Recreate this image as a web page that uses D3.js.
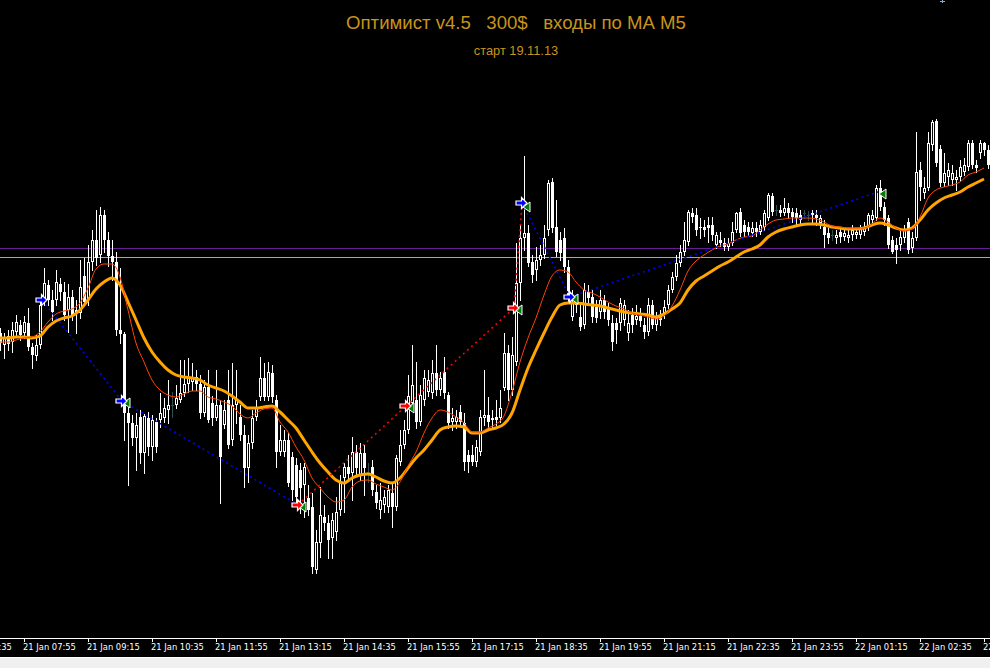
<!DOCTYPE html>
<html>
<head>
<meta charset="utf-8">
<script src="https://cdnjs.cloudflare.com/ajax/libs/d3/7.8.5/d3.min.js"></script>
<style>
  html, body { margin: 0; padding: 0; background: #000; overflow: hidden; }
  text { white-space: pre; }
</style>
</head>
<body>
<div id="chart"></div>
<script>
// EURUSD M5, 21-22 Jan. Prices are points above 1.35000 (1 point = 0.00001)
// one row per bar: [open, high, low, close]
var ohlc = [
  [667,672,650,657],[655,667,642,662],[664,670,650,656],[658,678,648,670],[668,685,664,678],
  [675,680,660,665],[667,684,662,678],[677,692,650,653],[653,657,632,645],[644,665,640,655],
  [655,700,652,695],[700,732,695,717],[715,720,695,700],[700,710,680,688],[700,730,695,718],
  [716,722,700,708],[708,718,680,685],[690,716,668,703],[703,710,680,685],[690,700,667,687],
  [687,740,682,713],[724,742,695,698],[700,755,695,738],[738,770,730,760],[760,790,735,742],
  [745,793,738,785],[785,790,748,760],[760,768,734,744],[744,760,720,738],[738,748,665,670],
  [670,732,657,666],[666,668,560,587],[587,595,515,577],[577,585,555,562],[562,587,530,575],
  [583,590,537,547],[547,586,527,584],[582,588,545,553],[553,585,540,580],[578,582,548,553],
  [580,607,573,587],[582,602,578,592],[590,620,577,595],[595,608,583,595],[595,615,592,602],
  [600,640,598,607],[607,640,604,616],[616,642,608,622],[618,637,610,623],[623,630,610,616],
  [616,625,582,587],[587,620,584,613],[613,630,578,580],[597,604,575,582],[582,630,580,595],
  [595,600,497,543],[575,600,572,590],[600,630,552,555],[560,637,555,595],[595,630,577,600],
  [583,595,560,565],[565,575,513,532],[532,565,518,557],[557,590,552,582],[583,600,580,593],
  [603,643,600,622],[622,637,600,603],[603,638,600,628],[627,635,598,603],[600,605,533,548],
  [548,575,545,560],[548,570,544,560],[560,567,514,517],[543,548,500,510],[535,542,495,503],
  [530,537,487,512],[515,537,483,533],[502,515,485,490],[493,507,427,433],[430,470,427,458],
  [457,513,443,485],[483,495,470,477],[477,485,442,460],[462,487,442,480],[468,503,460,488],
  [490,525,485,518],[522,537,488,533],[533,545,520,526],[527,563,500,548],[548,555,525,532],
  [525,557,520,547],[547,555,505,532],[528,537,518,528],[533,540,505,510],[508,515,492,497],
  [490,517,482,500],[495,510,488,503],[493,515,488,510],[507,517,473,493],[493,545,490,542],
  [538,570,535,555],[555,580,552,570],[570,625,567,604],[597,655,592,615],[600,638,572,578],
  [578,615,575,605],[600,630,595,622],[608,630,604,620],[607,640,602,627],[627,655,605,610],
  [610,628,605,622],[628,643,602,607],[605,608,572,577],[578,592,570,582],[578,590,572,583],
  [588,595,575,578],[577,587,530,538],[545,550,528,538],[545,555,535,538],[538,560,534,553],
  [548,590,545,583],[582,630,575,585],[585,603,570,578],[580,590,572,582],[583,600,575,580],
  [582,610,578,592],[612,667,610,647],[647,655,600,610],[610,663,605,645],[638,757,635,717],
  [717,775,700,762],[762,844,750,767],[767,775,734,737],[738,745,718,725],[730,753,720,740],
  [740,755,735,745],[745,775,742,762],[770,820,765,817],[818,822,768,772],[773,800,744,748],
  [760,768,740,747],[762,772,728,733],[733,740,697,703],[683,710,680,697],[697,705,688,695],
  [683,695,670,673],[675,717,672,710],[708,715,695,702],[703,710,678,683],[693,700,678,682],
  [688,710,682,700],[700,705,682,688],[692,697,675,680],[677,685,650,658],[677,682,657,670],
  [677,702,670,697],[680,700,675,695],[667,690,660,677],[685,692,668,675],[680,695,676,684],
  [684,692,674,679],[675,682,662,668],[668,702,665,695],[695,700,672,675],[675,688,670,682],
  [684,690,675,680],[687,700,682,693],[695,715,692,710],[710,728,708,723],[723,745,720,737],
  [737,755,734,748],[748,778,745,760],[758,790,755,788],[787,792,778,783],[785,792,765,770],
  [773,782,762,772],[773,780,764,770],[775,783,758,772],[775,783,760,765],[755,768,752,765],
  [760,768,754,757],[757,762,750,753],[753,762,750,757],[757,778,755,768],[770,788,768,787],
  [788,792,764,767],[775,780,764,768],[773,778,764,768],[767,778,764,772],[772,778,764,768],
  [768,780,766,775],[773,790,770,787],[782,807,780,805],[804,807,785,788],[790,795,785,790],
  [790,795,784,787],[787,802,785,792],[792,797,782,787],[788,792,778,783],[787,792,775,782],
  [785,790,776,780],[787,790,782,787],[785,789,780,785],[787,790,778,785],[785,790,775,782],
  [777,785,772,782],[773,780,753,765],[767,772,757,762],[765,770,760,765],[762,770,757,765],
  [768,772,758,763],[763,772,760,767],[762,770,758,765],[765,775,760,770],[765,772,762,768],
  [765,775,762,772],[768,778,765,773],[773,787,770,785],[780,790,778,785],[782,815,780,812],
  [812,820,790,793],[793,798,775,780],[782,785,752,755],[760,764,747,748],[755,762,737,750],
  [755,770,750,763],[762,775,758,770],[778,782,747,750],[752,768,748,762],[762,868,760,828],
  [830,838,800,813],[807,823,802,812],[812,868,810,857],[855,880,850,878],[879,881,834,837],
  [851,855,814,817],[817,847,814,827],[823,837,815,830],[820,835,815,827],[820,830,810,823],
  [823,840,820,833],[828,842,825,835],[833,860,830,857],[857,860,832,835],[835,840,828,832],
  [847,860,842,857],[857,858,845,850],[850,855,832,835]
];

// moving averages, one value every 2nd bar
var maSlow = [
  662,662,663,663,662,664,673,679,682,684, 690,700,711,718,722,715,698,680,662,648,
  638,630,625,623,622,620,615,612,609,604, 598,592,592,593,594,588,580,572,560,548,
  537,528,520,517,522,525,526,523,519,517, 522,532,542,550,560,570,573,574,573,567,
  567,570,572,576,587,610,632,650,667,683, 695,697,697,696,695,694,692,690,688,687,
  686,685,683,686,691,697,710,719,724,729, 734,738,743,748,751,755,763,768,771,773,
  775,776,776,775,773,772,771,771,772,775, 777,775,772,770,772,780,790,797,802,805,
  808,813,817,821
];
var maFast = [
  658,658,660,662,663,668,678,686,689,691, 697,712,731,736,736,723,690,657,638,620,
  610,605,603,606,609,609,603,601,598,594, 586,582,587,591,592,578,568,553,540,522,
  512,503,498,500,513,519,520,516,513,510, 518,534,548,567,582,590,588,583,577,568,
  568,572,576,584,608,638,662,682,705,724, 730,728,718,710,707,703,698,694,691,687,
  685,683,681,684,694,710,729,739,745,750, 754,756,760,763,764,770,776,780,781,782,
  782,782,781,778,774,773,772,772,772,776, 782,778,772,769,771,783,802,810,813,815,
  818,825,828,832
];

var levelPurple = 752;
var levelGray = 743;

// orders: open bar/price -> close bar/price
var trades = [
  { side: "buy",  openBar: 10,  openPrice: 700, closeBar: 30,  closePrice: 599 },
  { side: "buy",  openBar: 30,  openPrice: 599, closeBar: 74,  closePrice: 495 },
  { side: "sell", openBar: 74,  openPrice: 495, closeBar: 101, closePrice: 594 },
  { side: "sell", openBar: 101, openPrice: 594, closeBar: 128, closePrice: 692 },
  { side: "sell", openBar: 128, openPrice: 692, closeBar: 130, closePrice: 795 },
  { side: "buy",  openBar: 130, openPrice: 797, closeBar: 142, closePrice: 703 },
  { side: "buy",  openBar: 142, openPrice: 703, closeBar: 219, closePrice: 808 }
];

var firstBarTime = new Date(2014, 0, 21, 7, 25);
var barMinutes = 5;
var labelEvery = 16;

var width = 990, height = 668;
var plotBottom = 638;

var svg = d3.select("#chart").append("svg")
    .attr("width", width)
    .attr("height", height)
    .style("display", "block");

svg.append("rect").attr("width", width).attr("height", height).attr("fill", "#000");

var x = d3.scaleLinear().domain([0, 247.5]).range([0, 990]);
var y = d3.scaleLinear().domain([362, 1000]).range([plotBottom, 0]);

var plot = svg.append("g").attr("shape-rendering", "crispEdges");

// horizontal levels
[[levelPurple, "#6a1b9a"], [levelGray, "#a4a8ac"]].forEach(function(l) {
  var yy = Math.round(y(l[0])) + 0.5;
  plot.append("line").attr("x1", 0).attr("x2", width).attr("y1", yy).attr("y2", yy)
      .attr("stroke", l[1]).attr("stroke-width", 1);
});

// candles
var bars = plot.selectAll("g.bar").data(ohlc).enter().append("g").attr("class", "bar");
bars.each(function(d, i) {
  var g = d3.select(this);
  var cx = Math.round(x(i));
  var o = d[0], h = d[1], l = d[2], c = d[3];
  var doji = o === c;
  var col = doji ? "#2f4f4f" : "#ffffff";
  g.append("line").attr("x1", cx + 0.5).attr("x2", cx + 0.5)
      .attr("y1", Math.round(y(h))).attr("y2", Math.round(y(l)) + 1)
      .attr("stroke", col);
  var top = Math.round(y(Math.max(o, c))), bot = Math.round(y(Math.min(o, c)));
  if (doji) {
    g.append("rect").attr("x", cx - 1).attr("y", top).attr("width", 3).attr("height", 1).attr("fill", col);
  } else if (c > o) {
    g.append("rect").attr("x", cx - 0.5).attr("y", top + 0.5)
        .attr("width", 2).attr("height", Math.max(bot - top - 1, 0))
        .attr("fill", "#000").attr("stroke", "#fff").attr("stroke-width", 1);
  } else {
    g.append("rect").attr("x", cx - 1).attr("y", top)
        .attr("width", 3).attr("height", Math.max(bot - top, 1)).attr("fill", "#fff");
  }
});

// moving averages
var maLine = d3.line()
    .x(function(d, k) { return x(k * 2); })
    .y(function(d) { return y(d); })
    .curve(d3.curveMonotoneX);

svg.append("path").datum(maSlow).attr("d", maLine)
    .attr("fill", "none").attr("stroke", "#ffa500").attr("stroke-width", 3);
svg.append("path").datum(maFast).attr("d", maLine)
    .attr("fill", "none").attr("stroke", "#ff4500").attr("stroke-width", 1);

// order lines
var sideColor = { buy: "#0000ff", sell: "#ff0000" };
svg.selectAll("line.trade").data(trades).enter().append("line")
    .attr("class", "trade")
    .attr("x1", function(d) { return x(d.openBar) + 2; })
    .attr("y1", function(d) { return y(d.openPrice); })
    .attr("x2", function(d) { return x(d.closeBar) + 2; })
    .attr("y2", function(d) { return y(d.closePrice); })
    .attr("stroke", function(d) { return sideColor[d.side]; })
    .attr("stroke-width", 1.6)
    .attr("stroke-dasharray", "2,3.5");

// close marks (green triangles)
svg.selectAll("path.close").data(trades).enter().append("path")
    .attr("class", "close")
    .attr("transform", function(d) { return "translate(" + (x(d.closeBar) + 3) + "," + (y(d.closePrice) + 2) + ")"; })
    .attr("d", "M0,0L7,-5L7,5Z")
    .attr("fill", "#008000").attr("stroke", "#fff").attr("stroke-width", 1);

// open marks (arrows)
svg.selectAll("path.open").data(trades).enter().append("path")
    .attr("class", "open")
    .attr("transform", function(d) { return "translate(" + (x(d.openBar) + 1.5) + "," + y(d.openPrice) + ")"; })
    .attr("d", "M-5.5,-2L0,-2L0,-5.5L5.5,0L0,5.5L0,2L-5.5,2Z")
    .attr("fill", function(d) { return sideColor[d.side]; })
    .attr("stroke", "#fff").attr("stroke-width", 1.2);

// time axis
svg.append("line").attr("x1", 0).attr("x2", width).attr("y1", plotBottom + 0.5).attr("y2", plotBottom + 0.5)
    .attr("stroke", "#fff").attr("shape-rendering", "crispEdges");
svg.append("line").attr("x1", 0).attr("x2", width).attr("y1", 657.5).attr("y2", 657.5)
    .attr("stroke", "#fff").attr("shape-rendering", "crispEdges");
svg.append("rect").attr("x", 0).attr("y", 658).attr("width", width).attr("height", 10).attr("fill", "#f0f0f0");

var fmt = d3.timeFormat("%d %b %H:%M");
var tickBars = d3.range(-10, ohlc.length, labelEvery);
var ticks = svg.append("g").selectAll("g").data(tickBars).enter().append("g")
    .attr("transform", function(b) { return "translate(" + Math.round(x(b)) + ",0)"; });
ticks.append("line").attr("x1", 0.5).attr("x2", 0.5).attr("y1", plotBottom).attr("y2", plotBottom + 4)
    .attr("stroke", "#fff").attr("shape-rendering", "crispEdges");
ticks.append("text").attr("x", -1).attr("y", 650)
    .attr("fill", "#fff")
    .style("font", "9.3px 'DejaVu Sans Condensed', 'Liberation Sans', Arial, sans-serif")
    .text(function(b) { return fmt(d3.timeMinute.offset(firstBarTime, b * barMinutes)); });

// titles
svg.append("text").attr("x", 516).attr("y", 29).attr("text-anchor", "middle")
    .attr("fill", "#c8941c")
    .style("font", "18.6px 'Liberation Sans', Arial, sans-serif")
    .text("Оптимист v4.5   300$   входы по МА М5");
svg.append("text").attr("x", 516).attr("y", 55).attr("text-anchor", "middle")
    .attr("fill", "#c8941c")
    .style("font", "12.8px 'Liberation Sans', Arial, sans-serif")
    .text("старт 19.11.13");

// small mark at the top edge
svg.append("path").attr("d", "M942.5,0V3M940,1.5H945").attr("stroke", "#8fa8c8")
    .attr("shape-rendering", "crispEdges");
</script>
</body>
</html>
